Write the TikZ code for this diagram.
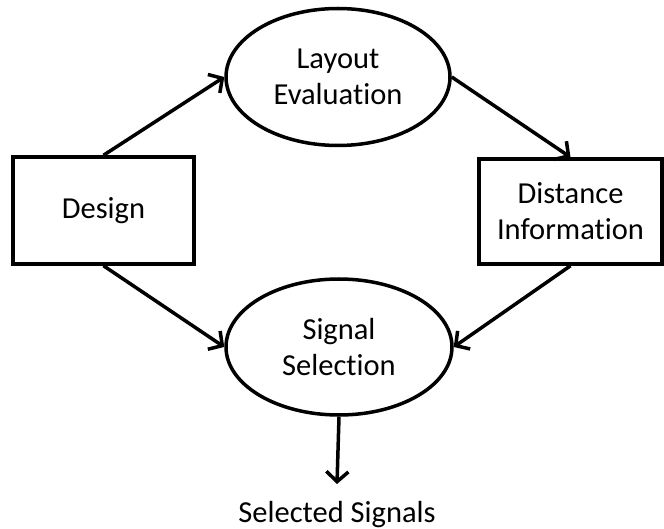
\documentclass[tikz,border=0pt]{standalone}
\usepackage{fontspec}
\setmainfont{Carlito}[Ligatures=NoCommon]
\usetikzlibrary{shapes.geometric,arrows.meta}
\begin{document}
\begin{tikzpicture}[x=1pt,y=-1pt,
  every node/.style={font=\fontsize{30.5}{36}\selectfont, align=center},
  box/.style={draw, line width=3.5pt, rectangle, inner sep=0pt},
  oval/.style={draw, line width=3.5pt, ellipse, inner sep=0pt},
  conn/.style={line width=3.5pt, -{Straight Barb[length=10pt,width=22pt,line width=3.5pt]}}]
\useasboundingbox (0,0) rectangle (664,529);
\node[box, minimum width=181pt, minimum height=107pt] (design) at (103.5,210.5) {Design};
\node[box, minimum width=183pt, minimum height=105pt] (dist) at (570.5,211.5) {Distance\\Information};
\node[oval, minimum width=224pt, minimum height=137pt] (layout) at (338,77) {Layout\\Evaluation};
\node[oval, minimum width=226pt, minimum height=136pt] (signal) at (339,347) {Signal\\Selection};
\node[inner sep=0pt, anchor=base] (sel) at (337,522) {Selected Signals};
\coordinate (selin) at (337,484);
\draw[conn] (design.north) -- (layout.west);
\draw[conn] (layout.east) -- (dist.north);
\draw[conn] (design.south) -- (signal.west);
\draw[conn] (dist.south) -- (signal.east);
\draw[conn] (signal.south) -- (selin);
\end{tikzpicture}
\end{document}
